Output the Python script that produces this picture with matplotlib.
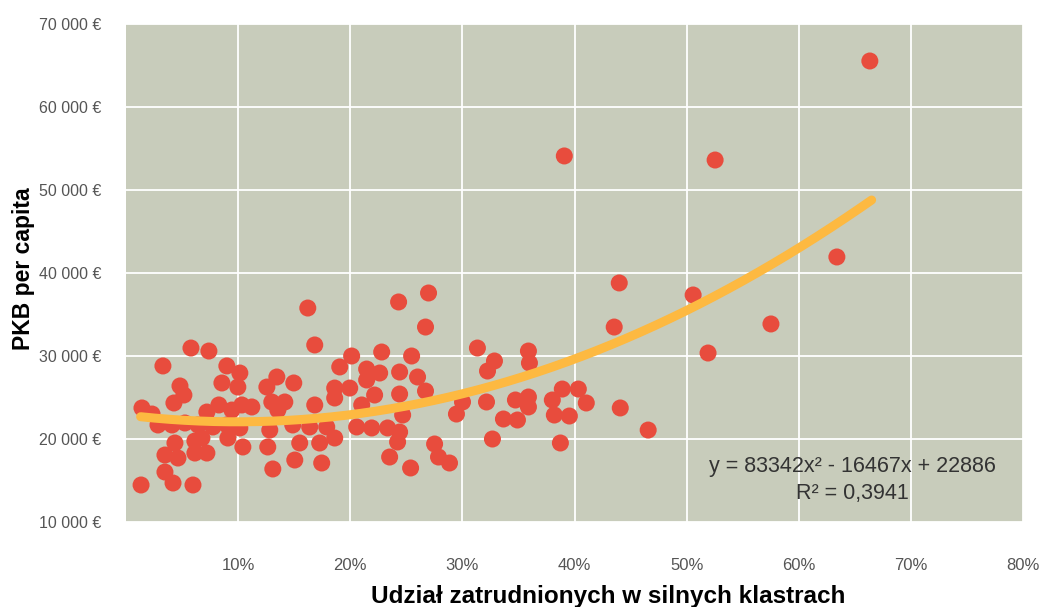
import matplotlib
matplotlib.use("Agg")
import matplotlib.pyplot as plt
import numpy as np

# Share of employees in strong clusters (%)
share_pct = [
    5.79, 7.39, 3.29, 8.99, 10.15, 8.55, 4.81, 9.97, 5.16, 4.27, 1.42, 2.32,
    8.28, 7.21, 9.44, 10.33, 2.85, 4.10, 5.25, 6.41, 7.75, 8.99, 10.15, 9.08,
    4.36, 6.14, 6.77, 10.42, 3.47, 4.63, 6.14, 7.21, 3.47, 4.19, 5.97, 1.34,
    16.83, 19.06, 13.45, 14.96, 12.56, 18.61, 13.00, 14.16, 11.22, 16.83, 18.61,
    13.54, 14.87, 16.38, 17.90, 12.82, 15.49, 17.27, 18.61, 12.64, 15.05, 17.45,
    13.09, 16.21,
    24.31, 26.98, 26.71, 20.12, 22.80, 25.47, 21.46, 22.62, 24.40, 21.46, 26.00,
    19.95, 22.17, 24.40, 26.71, 21.02, 24.67, 30.01, 29.47, 20.57, 21.91, 23.33,
    24.40, 24.22, 27.52, 27.87, 28.85, 23.51, 25.38,
    43.54, 31.34, 35.89, 32.86, 32.24, 35.98, 32.15, 34.73, 35.89, 35.89, 33.66,
    34.91, 38.02, 38.91, 40.34, 41.05, 38.20, 39.54, 44.08, 46.57, 32.68, 38.74,
    39.09, 52.54, 66.34, 63.40, 57.52, 50.58, 51.91, 43.99,
]
# GDP per capita (EUR)
gdp = [
    30960, 30600, 28800, 28800, 27950, 26750, 26390, 26260, 25300, 24340, 23740,
    23010, 24100, 23250, 23490, 24100, 21690, 21690, 21930, 21690, 21450, 21690,
    21330, 20120, 19520, 19760, 20120, 19040, 18070, 17710, 18310, 18310, 16020,
    14700, 14460, 14460,
    31330, 28680, 27470, 26750, 26260, 26140, 24460, 24460, 23860, 24100, 24940,
    23490, 21690, 21450, 21450, 21080, 19520, 19520, 20120, 19040, 17470, 17110,
    16390, 35780,
    36510, 37590, 33490, 30000, 30480, 30000, 28430, 27950, 28070, 27110, 27470,
    26140, 25300, 25420, 25780, 24100, 22890, 24460, 23010, 21450, 21330, 21330,
    20840, 19640, 19400, 17830, 17110, 17830, 16510,
    33490, 30960, 30600, 29400, 28190, 29160, 24460, 24700, 25060, 23860, 22410,
    22290, 24700, 26020, 26020, 24340, 22890, 22770, 23740, 21080, 20000, 19520,
    54100, 53610, 65540, 41930, 33860, 37350, 30360, 38800,
]

# Quadratic trend from the chart's equation
fit_coef = [83342, -16467, 22886]
fit_range = [0.013, 0.665]
equation_text = "y = 83342x² - 16467x + 22886"
r2_text = "R² = 0,3941"

x_ticks = [0.1, 0.2, 0.3, 0.4, 0.5, 0.6, 0.7, 0.8]
x_tick_labels = ["10%", "20%", "30%", "40%", "50%", "60%", "70%", "80%"]
y_ticks = [10000, 20000, 30000, 40000, 50000, 60000, 70000]
y_tick_labels = ["10 000 €", "20 000 €", "30 000 €", "40 000 €",
                 "50 000 €", "60 000 €", "70 000 €"]

narrow = ["Liberation Sans Narrow", "Liberation Sans", "DejaVu Sans"]
bold = ["Liberation Sans", "DejaVu Sans"]

fig = plt.figure(figsize=(10.46, 6.07), dpi=100)
ax = fig.add_axes([0.1205, 0.140, 0.8575, 0.8205])
ax.set_facecolor("#c8ccbb")
for s in ax.spines.values():
    s.set_visible(False)

ax.set_xlim(0, 0.8)
ax.set_ylim(10000, 70000)
ax.set_xticks(x_ticks)
ax.set_xticklabels(x_tick_labels, family=narrow, fontsize=12, color="#555555")
ax.set_yticks(y_ticks)
ax.set_yticklabels(y_tick_labels, family=narrow, fontsize=11.5, color="#555555")
ax.tick_params(axis="both", length=0)
ax.tick_params(axis="y", pad=18)
ax.tick_params(axis="x", pad=26)
ax.grid(True, color="white", linewidth=1.3)
ax.set_axisbelow(True)

xs = np.array(share_pct) / 100.0
ax.scatter(xs, gdp, s=150, color="#e84c3d", edgecolors="none", zorder=3)

xf = np.linspace(fit_range[0], fit_range[1], 200)
yf = np.polyval(fit_coef, xf)
ax.plot(xf, yf, color="#fdb941", linewidth=6.5, solid_capstyle="round", zorder=4)

ax.text(0.648, 16650, equation_text, family=narrow, fontsize=15.5,
        color="#333333", ha="center", va="center", zorder=5)
ax.text(0.648, 13400, r2_text, family=narrow, fontsize=15.5,
        color="#333333", ha="center", va="center", zorder=5)

fig.text(0.022, 0.558, "PKB per capita", family=bold, fontweight="bold",
         fontsize=16.5, rotation=90, ha="center", va="center", color="black")
fig.text(0.581, 0.018, "Udział zatrudnionych w silnych klastrach", family=bold,
         fontweight="bold", fontsize=17.5, ha="center", va="center", color="black")

fig.savefig("out.png", dpi=100)
